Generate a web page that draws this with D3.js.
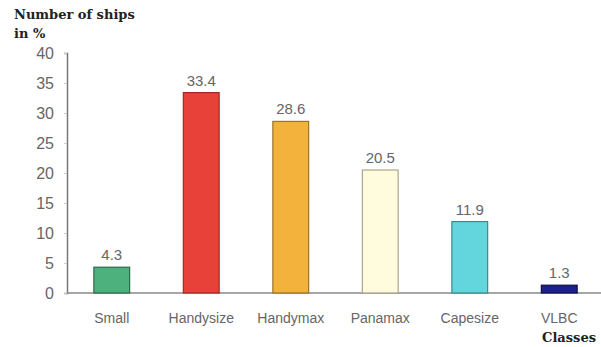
<!DOCTYPE html>
<html>
<head>
<meta charset="utf-8">
<script src="https://cdn.jsdelivr.net/npm/d3@7"></script>
<style>
  body { margin: 0; background: #fff; }
  svg { display: block; }
</style>
</head>
<body>
<div id="chart"></div>
<script>
// ship classes chart
var classes = ["Small", "Handysize", "Handymax", "Panamax", "Capesize", "VLBC"]
var shares = [4.3, 33.4, 28.6, 20.5, 11.9, 1.3]
var fills = ["#4cb17c", "#e8413a", "#f3b23c", "#fffbdc", "#62d6dc", "#1d1f8c"]
var strokes = ["#2f6b4b", "#a02a25", "#9c7428", "#a9a68c", "#3a8c90", "#0e0f4a"]
var yTicks = [0, 5, 10, 15, 20, 25, 30, 35, 40]

var width = 601, height = 347

var svg = d3.select("#chart")
  .append("svg")
    .attr("width", width)
    .attr("height", height)

var x = d3.scaleBand()
  .domain(classes)
  .range([67, 604])
  .paddingInner(0.6)
  .paddingOuter(0.3)

var y = d3.scaleLinear()
  .domain([0, 40])
  .range([293, 53])

// y axis
var yAxis = svg.append("g")
  .attr("transform", "translate(67,0)")
  .call(d3.axisLeft(y).tickValues(yTicks).tickSize(3).tickPadding(10))
yAxis.select(".domain").attr("stroke", "#777").attr("stroke-width", 1.5)
yAxis.selectAll(".tick line").attr("stroke", "#ccc")
yAxis.selectAll("text")
  .attr("fill", "#666")
  .style("font-family", "Liberation Sans, Arial, sans-serif")
  .style("font-size", "16px")

// baseline
svg.append("line")
  .attr("x1", 67).attr("x2", 601)
  .attr("y1", y(0)).attr("y2", y(0))
  .attr("stroke", "#888").attr("stroke-width", 1.5)

// bars
svg.selectAll("rect.bar")
  .data(classes)
  .enter()
  .append("rect")
    .attr("class", "bar")
    .attr("x", function(d) { return x(d) })
    .attr("y", function(d, i) { return y(shares[i]) })
    .attr("width", x.bandwidth())
    .attr("height", function(d, i) { return y(0) - y(shares[i]) })
    .attr("fill", function(d, i) { return fills[i] })
    .attr("stroke", function(d, i) { return strokes[i] })
    .attr("stroke-width", 1.2)

// value labels
svg.selectAll("text.val")
  .data(classes)
  .enter()
  .append("text")
    .attr("class", "val")
    .attr("x", function(d) { return x(d) + x.bandwidth() / 2 })
    .attr("y", function(d, i) { return y(shares[i]) - 7 })
    .attr("text-anchor", "middle")
    .attr("fill", "#666")
    .style("font-family", "Liberation Sans, Arial, sans-serif")
    .style("font-size", "15px")
    .text(function(d, i) { return shares[i] })

// category labels
svg.selectAll("text.cat")
  .data(classes)
  .enter()
  .append("text")
    .attr("class", "cat")
    .attr("x", function(d) { return x(d) + x.bandwidth() / 2 })
    .attr("y", 323)
    .attr("text-anchor", "middle")
    .attr("fill", "#666")
    .style("font-family", "Liberation Sans, Arial, sans-serif")
    .style("font-size", "14px")
    .text(function(d) { return d })

// titles
var serif = "DejaVu Serif, Liberation Serif, serif"
svg.append("text")
  .attr("x", 14).attr("y", 19)
  .style("font-family", serif).style("font-weight", "bold").style("font-size", "13px")
  .attr("fill", "#222")
  .text("Number of ships")
svg.append("text")
  .attr("x", 14).attr("y", 38)
  .style("font-family", serif).style("font-weight", "bold").style("font-size", "13px")
  .attr("fill", "#222")
  .text("in %")
svg.append("text")
  .attr("x", 596).attr("y", 342)
  .attr("text-anchor", "end")
  .style("font-family", serif).style("font-weight", "bold").style("font-size", "13px")
  .attr("fill", "#222")
  .text("Classes")
</script>
</body>
</html>
